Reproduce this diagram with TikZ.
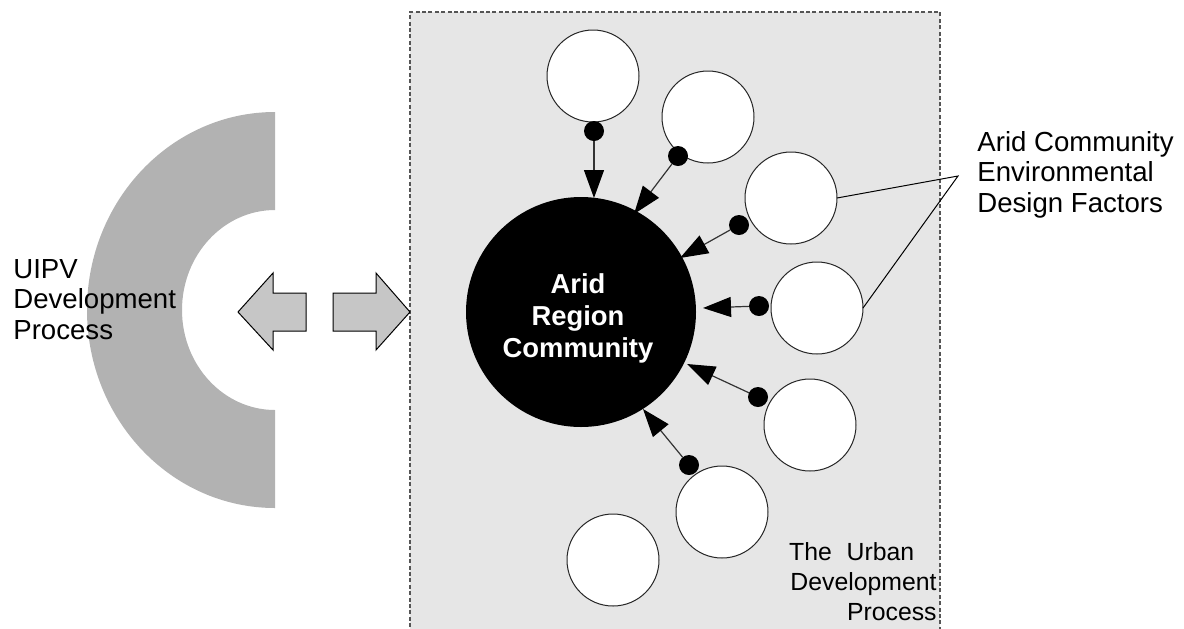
\documentclass[tikz,border=0pt]{standalone}
\usepackage{fontspec}
\setmainfont{Liberation Sans}
\usetikzlibrary{arrows.meta}
\definecolor{boxgray}{HTML}{E6E6E6}
\definecolor{cgray}{HTML}{B2B2B2}
\definecolor{arrgray}{HTML}{C6C6C6}
\definecolor{edgegray}{HTML}{555555}
\begin{document}
\begin{tikzpicture}[x=0.5pt,y=-0.5pt,
  factor/.style={circle,draw=black!85,line width=0.5pt,fill=white,minimum size=46pt,inner sep=0pt,outer sep=0pt},
  dotnode/.style={circle,fill=black,minimum size=10pt,inner sep=0pt,outer sep=0pt},
  feed/.style={draw=black!80,line width=0.6pt,-{Triangle[length=14pt,width=10pt,color=black]}},
  callout/.style={draw=black,line width=0.5pt},
  bigarrow/.style={fill=arrgray,draw=black,line width=0.5pt},
  lbl/.style={font=\fontsize{13.8pt}{15.2pt}\selectfont,align=left,inner sep=0pt}]
\useasboundingbox (0,0) rectangle (1184,628);
% UIPV C shape
\fill[cgray] (275,112) arc[start angle=270,end angle=90,x radius=188,y radius=198]
  -- (275,410) arc[start angle=90,end angle=270,x radius=93,y radius=100] -- cycle;
% urban development box
\path[fill=boxgray,draw=edgegray,dash pattern=on 2pt off 1.2pt,line width=0.6pt]
  (410,640) -- (410,12) -- (940,12) -- (940,640);
% double arrow
\path[bigarrow] (238,312) -- (273,273) -- (273,293) -- (306,293) -- (306,331) -- (273,331) -- (273,350) -- cycle;
\path[bigarrow] (410,312) -- (376,273) -- (376,293) -- (333,293) -- (333,331) -- (376,331) -- (376,350) -- cycle;
% central community
\node[circle,fill=black,minimum size=115pt,inner sep=0pt,outer sep=0pt] (big) at (581,312) {};
\node[font=\bfseries\fontsize{13.7pt}{16pt}\selectfont,text=white,align=center,inner sep=0pt] (bigtxt) at (578,318) {Arid\\Region\\Community};
% factor circles
\node[factor] (c1) at (593,76) {};
\node[factor] (c2) at (708,117) {};
\node[factor] (c3) at (791,198) {};
\node[factor] (c4) at (817,308) {};
\node[factor] (c5) at (810,425) {};
\node[factor] (c6) at (722,512) {};
\node[factor] (c7) at (613,560) {};
% dots
\node[dotnode] (d1) at (594,131) {};
\node[dotnode] (d2) at (678,156) {};
\node[dotnode] (d3) at (739,225) {};
\node[dotnode] (d4) at (759,306) {};
\node[dotnode] (d5) at (758,397) {};
\node[dotnode] (d6) at (689,465) {};
% arrow tips
\coordinate (t1) at (594,198);
\coordinate (t2) at (634,214);
\coordinate (t3) at (680,258);
\coordinate (t4) at (703,308);
\coordinate (t5) at (687,364);
\coordinate (t6) at (643,409);
\draw[feed] (d1) -- (t1);
\draw[feed] (d2) -- (t2);
\draw[feed] (d3) -- (t3);
\draw[feed] (d4) -- (t4);
\draw[feed] (d5) -- (t5);
\draw[feed] (d6) -- (t6);
% callout
\coordinate (co) at (958,176);
\draw[callout] (c3.east) -- (co) -- (c4.east);
% labels (base anchor = last line)
\node[lbl,anchor=base west] (uipv) at (13,339) {UIPV\\Development\\Process};
\node[lbl,anchor=base west] (acedf) at (977,212) {Arid Community\\Environmental\\Design Factors};
\node[font=\fontsize{12.4pt}{15pt}\selectfont,align=right,inner sep=0pt,anchor=base east] (udp) at (937,620) {The\hspace{0.6em}Urban\rule{0.9em}{0pt}\\Development\\Process};
\end{tikzpicture}
\end{document}
